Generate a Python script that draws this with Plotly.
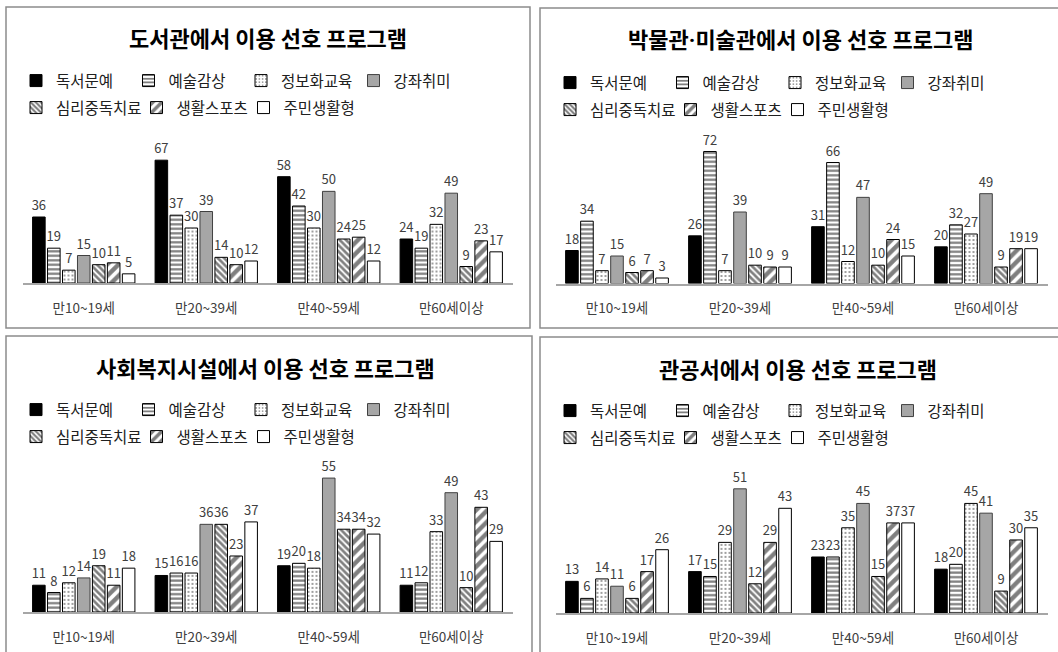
import plotly.graph_objects as go

W, H = 1058, 652

categories = ["만10~19세", "만20~39세", "만40~59세", "만60세이상"]
series_names = ["독서문예", "예술감상", "정보화교육", "강좌취미", "심리중독치료", "생활스포츠", "주민생활형"]
panel_titles = [
    "도서관에서 이용 선호 프로그램",
    "박물관<span style='font-family:Roboto'>·</span>미술관에서 이용 선호 프로그램",
    "사회복지시설에서 이용 선호 프로그램",
    "관공서에서 이용 선호 프로그램",
]

# values per age group (order of series_names)
library_10s = [36, 19, 7, 15, 10, 11, 5]
library_20s = [67, 37, 30, 39, 14, 10, 12]
library_40s = [58, 42, 30, 50, 24, 25, 12]
library_60s = [24, 19, 32, 49, 9, 23, 17]

museum_10s = [18, 34, 7, 15, 6, 7, 3]
museum_20s = [26, 72, 7, 39, 10, 9, 9]
museum_40s = [31, 66, 12, 47, 10, 24, 15]
museum_60s = [20, 32, 27, 49, 9, 19, 19]

welfare_10s = [11, 8, 12, 14, 19, 11, 18]
welfare_20s = [15, 16, 16, 36, 36, 23, 37]
welfare_40s = [19, 20, 18, 55, 34, 34, 32]
welfare_60s = [11, 12, 33, 49, 10, 43, 29]

office_10s = [13, 6, 14, 11, 6, 17, 26]
office_20s = [17, 15, 29, 51, 12, 29, 43]
office_40s = [23, 23, 35, 45, 15, 37, 37]
office_60s = [18, 20, 45, 41, 9, 30, 35]

panels = [
    [library_10s, library_20s, library_40s, library_60s],
    [museum_10s, museum_20s, museum_40s, museum_60s],
    [welfare_10s, welfare_20s, welfare_40s, welfare_60s],
    [office_10s, office_20s, office_40s, office_60s],
]

# ---------- styles ----------
def px_x(x):
    return x / W

def px_y(y):
    return 1 - y / H

bar_styles = [
    dict(color="#000000", line="#000000", pattern=None),
    dict(color="#ffffff", line="#000000", pattern=dict(shape="-", size=4.5, solidity=0.5, fgcolor="#000000", bgcolor="#ffffff")),
    dict(color="#ffffff", line="#000000", pattern=dict(shape=".", size=4, solidity=0.2, fgcolor="#000000", bgcolor="#ffffff")),
    dict(color="#a6a6a6", line="#404040", pattern=None),
    dict(color="#ffffff", line="#000000", pattern=dict(shape="\\", size=4.5, solidity=0.6, fgcolor="#000000", bgcolor="#ffffff")),
    dict(color="#ffffff", line="#000000", pattern=dict(shape="/", size=8, solidity=0.55, fgcolor="#000000", bgcolor="#ffffff")),
    dict(color="#ffffff", line="#000000", pattern=None),
]
ENTRY_W = 79.5
row2_widths = [ENTRY_W + 8, ENTRY_W - 5.5, ENTRY_W]

# panel geometry in pixels
panel_geo = [
    dict(ax=(22.5, 512.5), base=283.0, top=283.0 - 75 * 1.833, ymax=75,
         box=(6, 7, 530, 328), title=(268, 37), leg=(28, 81, 108)),
    dict(ax=(555.5, 1047.5), base=283.5, top=283.5 - 75 * 1.833, ymax=75,
         box=(540, 8, 1075, 328), title=(800, 38), leg=(562, 83, 110)),
    dict(ax=(22.5, 512.5), base=612.0, top=612.0 - 60 * 2.435, ymax=60,
         box=(6, 336, 532, 670), title=(265, 367), leg=(28, 410, 437)),
    dict(ax=(555.5, 1047.5), base=613.0, top=613.0 - 60 * 2.435, ymax=60,
         box=(540, 337, 1075, 670), title=(798, 368), leg=(562, 411, 438)),
]

FONT = "Noto Sans CJK KR"
fig = go.Figure()

legend_layouts = {}
for p, (groups, geo) in enumerate(zip(panels, panel_geo)):
    ax_id = "" if p == 0 else str(p + 1)
    for i, name in enumerate(series_names):
        vals = [g[i] for g in groups]
        st = bar_styles[i]
        marker = dict(color=st["color"], line=dict(color=st["line"], width=1))
        if st["pattern"] is not None:
            marker["pattern"] = st["pattern"]
        leg_idx = 2 * p + (1 if i < 4 else 2)
        leg_name = "legend" if leg_idx == 1 else f"legend{leg_idx}"
        extra = {}
        if i >= 4:
            extra["legendwidth"] = row2_widths[i - 4]
        fig.add_trace(go.Bar(
            x=categories, y=vals, name=name,
            xaxis="x" + ax_id, yaxis="y" + ax_id,
            marker=marker,
            text=[str(v) for v in vals],
            textposition="outside",
            textangle=0,
            constraintext="none",
            cliponaxis=False,
            textfont=dict(family=FONT, size=13, color="#404040"),
            legend=leg_name,
            showlegend=True,
            hoverinfo="skip",
            **extra,
        ))
    # legends
    for r in range(2):
        leg_idx = 2 * p + 1 + r
        leg_name = "legend" if leg_idx == 1 else f"legend{leg_idx}"
        legend_layouts[leg_name] = dict(
            orientation="h",
            x=px_x(geo["leg"][0]), xanchor="left",
            y=px_y(geo["leg"][1 + r]), yanchor="middle",
            font=dict(family=FONT, size=15.5, color="#202020"),
            bgcolor="rgba(0,0,0,0)",
            borderwidth=0,
            itemwidth=30,
            indentation=-12,
            entrywidth=ENTRY_W,
            entrywidthmode="pixels",
            traceorder="normal",
            itemclick=False, itemdoubleclick=False,
        )
    # axes
    fig.layout["xaxis" + ax_id] = dict(
        domain=[px_x(geo["ax"][0]), px_x(geo["ax"][1])],
        anchor="y" + ax_id,
        showline=True, linecolor="#a6a6a6", linewidth=1.5,
        ticks="", showgrid=False, zeroline=False,
        ticklabelstandoff=12,
        tickfont=dict(family=FONT, size=13.5, color="#404040"),
        fixedrange=True,
    )
    fig.layout["yaxis" + ax_id] = dict(
        domain=[px_y(geo["base"]), px_y(geo["top"])],
        anchor="x" + ax_id,
        range=[0, geo["ymax"]],
        showticklabels=False, showgrid=False, zeroline=False, showline=False,
        ticks="", fixedrange=True,
    )

shapes = []
annotations = []
for p, geo in enumerate(panel_geo):
    x0, y0, x1, y1 = geo["box"]
    shapes.append(dict(type="rect", xref="paper", yref="paper",
                       x0=px_x(x0), x1=px_x(x1), y0=px_y(y1), y1=px_y(y0),
                       line=dict(color="#8c8c8c", width=1.5), fillcolor="rgba(0,0,0,0)",
                       layer="below"))
    annotations.append(dict(text="<b>" + panel_titles[p] + "</b>", xref="paper", yref="paper",
                            x=px_x(geo["title"][0]), y=px_y(geo["title"][1]),
                            xanchor="center", yanchor="middle", showarrow=False,
                            font=dict(family=FONT, size=22, color="#000000")))

fig.update_layout(
    width=W, height=H,
    margin=dict(l=0, r=0, t=0, b=0),
    paper_bgcolor="#ffffff", plot_bgcolor="#ffffff",
    font=dict(family=FONT, color="#404040"),
    barmode="group", bargap=0.145, bargroupgap=0.16,
    shapes=shapes, annotations=annotations,
    hovermode=False,
    **legend_layouts,
)

fig.write_html("out.html", config={"displayModeBar": False},
               post_script="document.body.style.margin='0';document.body.style.overflow='hidden';")
